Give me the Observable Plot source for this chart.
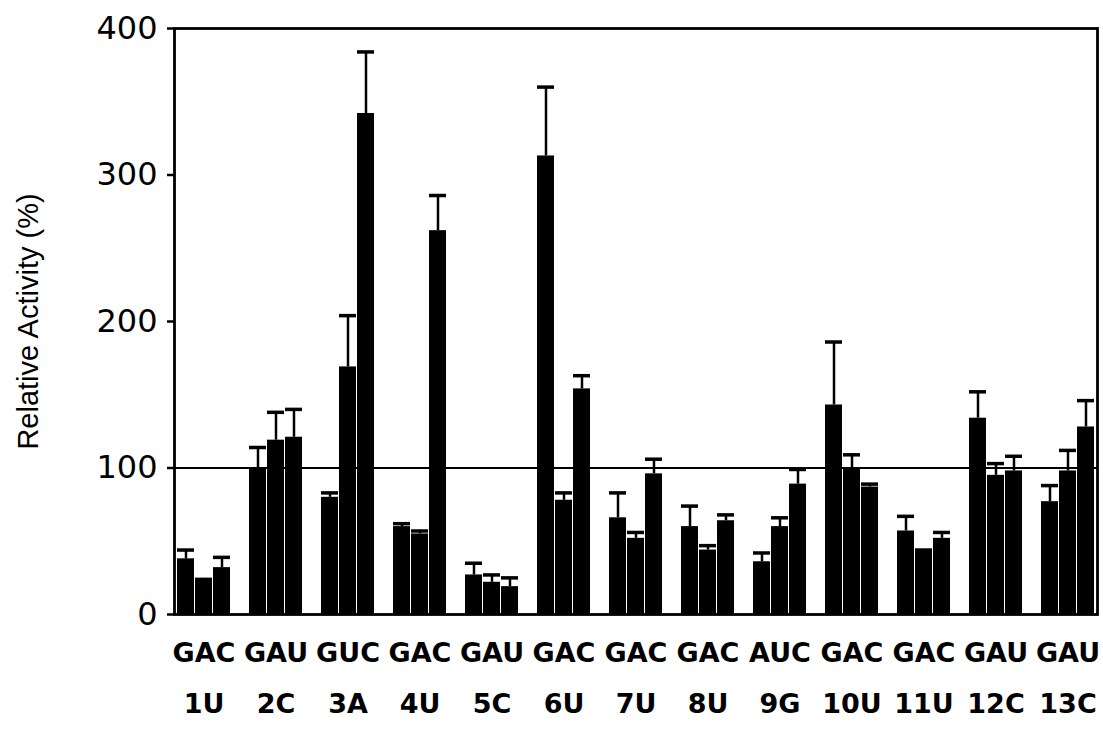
<!DOCTYPE html>
<html><head><meta charset="utf-8">
<script src="https://cdn.jsdelivr.net/npm/d3@7"></script>
<script src="https://cdn.jsdelivr.net/npm/@observablehq/plot@0.6"></script>
<style>
body{margin:0;background:#fff}
</style>
</head><body><div id="chart"></div>
<script>
const codons = ["GAC","GAU","GUC","GAC","GAU","GAC","GAC","GAC","AUC","GAC","GAC","GAU","GAU"];
const positions = ["1U","2C","3A","4U","5C","6U","7U","8U","9G","10U","11U","12C","13C"];
const series = ["a","b","c"];
const valuesA = [38,99,80,60,27,313,66,60,36,143,57,134,77];
const valuesB = [24,119,169,55,22,78,52,44,60,100,44,95,98];
const valuesC = [32,121,342,262,19,154,96,64,89,87,52,98,128];
const capsA = [44,114,83,62,35,360,83,74,42,186,67,152,88];
const capsB = [24,138,204,57,27,83,56,47,66,109,44,103,112];
const capsC = [39,140,384,286,25,163,106,68,99,89,56,108,146];
const yTicks = [0,100,200,300,400];
const reference = [100];
const yLabel = ["Relative Activity (%)"];

const valueSets = [valuesA, valuesB, valuesC];
const capSets = [capsA, capsB, capsC];
const rows = [];
const xDomain = [];
positions.forEach((p, i) => {
  series.forEach((s, j) => {
    const key = p + " " + s;
    xDomain.push(key);
    rows.push({key, value: valueSets[j][i], cap: capSets[j][i]});
  });
  if (i < positions.length - 1) xDomain.push(p + " gap");
});
const groups = positions.map((p, i) => ({key: p + " b", pos: p, codon: codons[i]}));

const chart = Plot.plot({
  width: 1103, height: 730,
  marginLeft: 174, marginRight: 6, marginTop: 28, marginBottom: 116,
  style: {background: "#fff", color: "#000"},
  x: {domain: xDomain, paddingInner: 0.04, paddingOuter: 0, axis: null},
  y: {domain: [0, 400]},
  marks: [
    Plot.barY(rows, {x: "key", y: "value", fill: "#000"}),
    Plot.ruleX(rows, {x: "key", y1: "value", y2: "cap", stroke: "#000", strokeWidth: 2.5}),
    Plot.tickY(rows, {x: "key", y: "cap", stroke: "#000", strokeWidth: 3.5}),
    Plot.ruleY(reference, {stroke: "#000", strokeWidth: 2}),
    Plot.frame({stroke: "#000", strokeWidth: 2.8}),
    Plot.axisY(yTicks, {
      tickSize: 7, tickPadding: 10, strokeWidth: 2.5,
      fontSize: 32, fontFamily: "DejaVu Sans", letterSpacing: 2,
      label: null
    }),
    Plot.text(yLabel, {frameAnchor: "left", rotate: -90, dx: -146, lineAnchor: "middle", textAnchor: "middle",
      fontSize: 29, fontFamily: "Liberation Sans", fill: "#000"}),
    Plot.text(groups, {x: "key", text: "codon", frameAnchor: "bottom", lineAnchor: "middle", dy: 39,
      fontSize: 27, fontWeight: "bold", fontFamily: "DejaVu Sans", fill: "#000"}),
    Plot.text(groups, {x: "key", text: "pos", frameAnchor: "bottom", lineAnchor: "middle", dy: 90,
      fontSize: 27, fontWeight: "bold", fontFamily: "DejaVu Sans", fill: "#000"})
  ]
});
document.getElementById("chart").appendChild(chart);
</script>
</body></html>
